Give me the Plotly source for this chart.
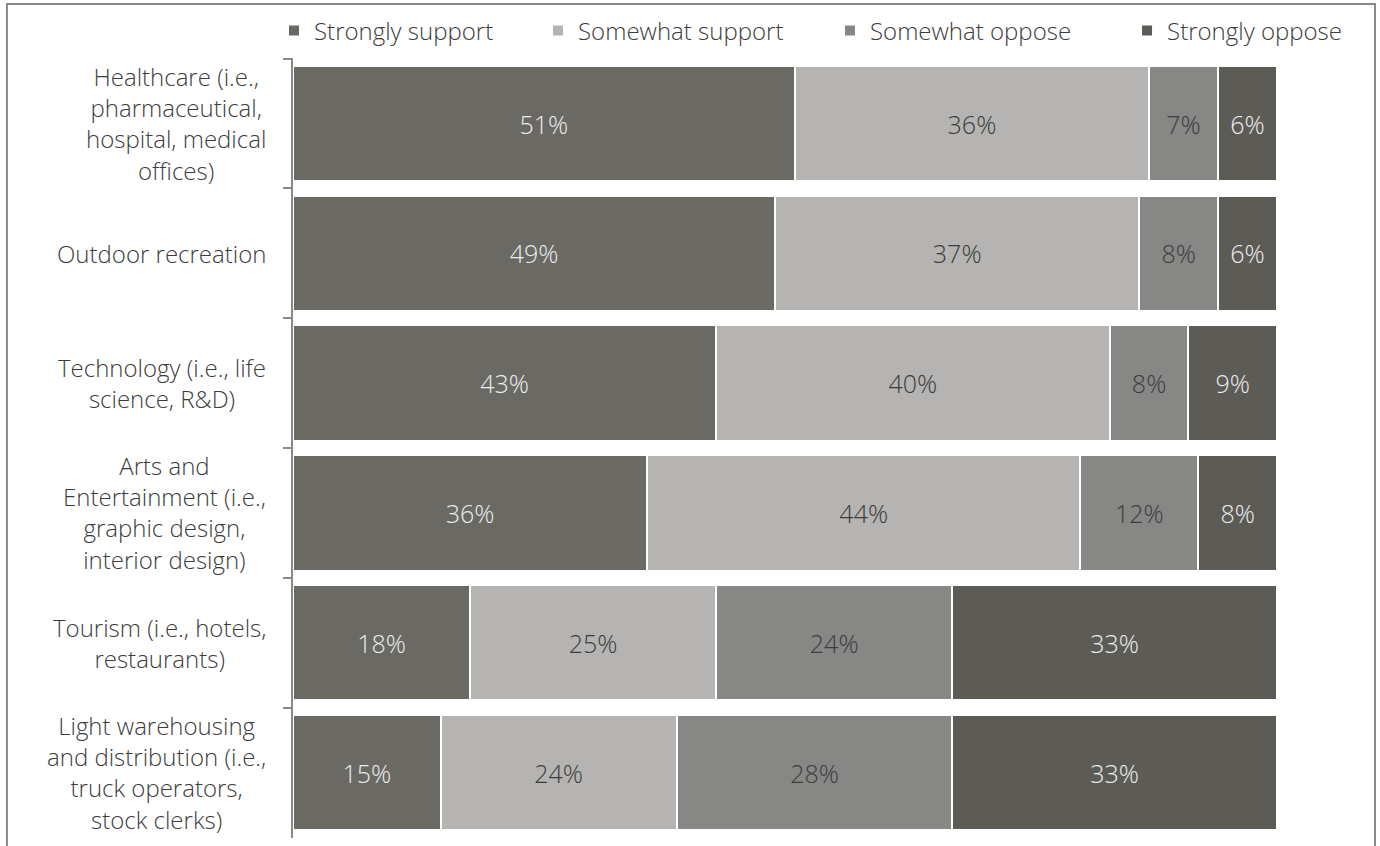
import plotly.graph_objects as go

# Survey: support for industry types
categories = [
    "Healthcare (i.e.,<br>pharmaceutical,<br>hospital, medical<br>offices)",
    "Outdoor recreation",
    "Technology (i.e., life<br>science, R&D)",
    "Arts and<br>Entertainment (i.e.,<br>graphic design,<br>interior design)",
    "Tourism (i.e., hotels,<br>restaurants)",
    "Light warehousing<br>and distribution (i.e.,<br>truck operators,<br>stock clerks)",
]
strongly_support = [51, 49, 43, 36, 18, 15]
somewhat_support = [36, 37, 40, 44, 25, 24]
somewhat_oppose = [7, 8, 8, 12, 24, 28]
strongly_oppose = [6, 6, 9, 8, 33, 33]

series = [
    ("Strongly support", strongly_support, "#6a6964", "#ececec"),
    ("Somewhat support", somewhat_support, "#b5b4b2", "#3c3c3c"),
    ("Somewhat oppose", somewhat_oppose, "#878785", "#3c3c3c"),
    ("Strongly oppose", strongly_oppose, "#5d5b56", "#ececec"),
]

FONT = "Open Sans"
LABEL_SIZE = 24
# each series gets its own legend box so the entries are spaced like the original layout
legend_x = [-0.0193, 0.249, 0.5457, 0.8476]
legend_ids = ["legend", "legend2", "legend3", "legend4"]

fig = go.Figure()
for (name, vals, color, txtcolor), lid in zip(series, legend_ids):
    fig.add_trace(go.Bar(
        name=name,
        y=categories,
        x=vals,
        orientation="h",
        legend=lid,
        marker=dict(color=color, line=dict(color="white", width=2)),
        text=[f"{v}%" for v in vals],
        textposition="inside",
        insidetextanchor="middle",
        textangle=0,
        textfont=dict(family=FONT, size=25, color=txtcolor, weight=300),
        hoverinfo="skip",
    ))

# Category labels: block right-aligned beside the axis, lines centred within it
for cat in categories:
    fig.add_annotation(
        x=-0.0254, xref="paper", y=cat, yref="y",
        text=cat, showarrow=False, xanchor="right", yanchor="middle",
        align="center",
        font=dict(family=FONT, size=LABEL_SIZE, color="#3c3c3c", weight=300),
    )

# Outer frame
fig.add_shape(
    type="rect", xref="paper", yref="paper",
    x0=-0.2907, x1=1.0996, y0=-0.05, y1=1.0692,
    line=dict(color="#8a8a8a", width=2), fillcolor="rgba(0,0,0,0)",
    layer="above",
)

legend_style = dict(
    orientation="h", xanchor="left", y=1.006, yanchor="bottom",
    font=dict(family=FONT, size=LABEL_SIZE, color="#3c3c3c", weight=300),
    itemsizing="constant", itemwidth=30, bgcolor="rgba(0,0,0,0)",
)
legends = {lid: dict(legend_style, x=lx) for lid, lx in zip(legend_ids, legend_x)}

fig.update_layout(
    barmode="stack",
    bargap=0.11,
    width=1380, height=846,
    margin=dict(l=293, r=103, t=58, b=8),
    paper_bgcolor="white",
    plot_bgcolor="white",
    font=dict(family=FONT, color="#3c3c3c"),
    showlegend=True,
    xaxis=dict(range=[0, 100], visible=False, fixedrange=True),
    yaxis=dict(
        autorange="reversed",
        showticklabels=False,
        showline=True, linecolor="#8a8a8a", linewidth=2,
        ticks="outside", tickson="boundaries", ticklen=8,
        tickcolor="#8a8a8a", tickwidth=2,
        showgrid=False, zeroline=False,
    ),
    **legends,
)

fig.write_html("out.html")
